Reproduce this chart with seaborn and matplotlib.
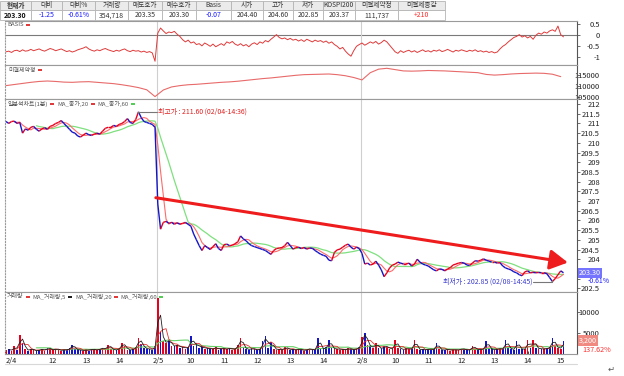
import numpy as np
import pandas as pd
import seaborn as sns
import matplotlib.pyplot as plt
from matplotlib.collections import LineCollection
from matplotlib.patches import Rectangle

# 5-minute bars (KOSPI200 futures, 1-min chart)
sessions = [
    ("2010-02-04 10:35", "2010-02-04 15:05"),
    ("2010-02-05 09:00", "2010-02-05 15:05"),
    ("2010-02-08 09:00", "2010-02-08 15:05"),
]

price_0204 = [211.1, 211.0, 211.1, 211.12, 211.0, 211.05, 210.5, 210.72, 210.65, 210.8,
              210.85, 210.7, 210.6, 210.72, 210.78, 210.7, 210.85, 210.9, 211.0, 211.05,
              211.15, 211.0, 210.85, 210.7, 210.55, 210.5, 210.35, 210.3, 210.4, 210.5,
              210.42, 210.38, 210.45, 210.5, 210.45, 210.6, 210.75, 210.8, 210.8, 210.9,
              210.85, 210.95, 211.0, 211.1, 211.25, 211.05, 211.0, 211.2, 211.6, 211.3,
              211.1, 211.05, 211.0, 210.95, 210.8]
price_0205 = [206.85, 205.55, 205.9, 205.95, 205.85, 205.9, 205.8, 205.88, 205.8, 205.85,
              205.9, 205.8, 205.7, 205.3, 205.0, 204.7, 204.45, 204.7, 204.6, 204.5,
              204.65, 204.8, 204.55, 204.45, 204.75, 204.78, 204.7, 204.72, 204.8, 204.9,
              205.2, 205.05, 204.95, 204.8, 204.7, 204.65, 204.6, 204.55, 204.5, 204.45,
              204.35, 204.25, 204.45, 204.55, 204.58, 204.6, 204.7, 204.87, 204.7, 204.52,
              204.6, 204.62, 204.55, 204.6, 204.52, 204.58, 204.56, 204.45, 204.35, 204.26,
              204.2, 204.15, 203.95, 203.92, 204.35, 204.48, 204.52, 204.62, 204.72, 204.78,
              204.62, 204.52, 204.62, 204.55]
price_0208 = [204.3, 203.75, 203.8, 203.7, 203.75, 203.9, 203.7, 203.45, 203.1, 203.3,
              203.55, 203.7, 203.75, 203.85, 203.8, 203.75, 203.75, 203.8, 203.65, 203.75,
              204.0, 203.85, 203.75, 203.7, 203.65, 203.55, 203.45, 203.4, 203.5, 203.48,
              203.4, 203.5, 203.57, 203.7, 203.75, 203.8, 203.83, 203.8, 203.7, 203.68,
              203.8, 203.92, 203.9, 203.95, 204.02, 203.95, 203.9, 203.85, 203.85, 203.8,
              203.82, 203.65, 203.55, 203.5, 203.45, 203.35, 203.3, 203.2, 203.15, 203.35,
              203.4, 203.3, 203.32, 203.3, 203.32, 203.3, 203.3, 203.25, 203.05, 202.85,
              203.0, 203.2, 203.4, 203.3]

basis_0204 = [-0.75, -0.72, -0.78, -0.7, -0.68, -0.74, -0.66, -0.72, -0.7, -0.64,
              -0.7, -0.66, -0.62, -0.68, -0.72, -0.66, -0.6, -0.64, -0.7, -0.66,
              -0.62, -0.68, -0.74, -0.7, -0.76, -0.72, -0.66, -0.62, -0.58, -0.52,
              -0.62, -0.68, -0.72, -0.66, -0.7, -0.64, -0.6, -0.66, -0.7, -0.74,
              -0.68, -0.72, -0.66, -0.62, -0.7, -0.74, -0.68, -0.72, -0.7, -0.76,
              -0.72, -0.78, -0.74, -0.8, -1.18]
basis_0205 = [0.1, 0.33, 0.2, 0.08, 0.15, 0.12, 0.18, 0.05, -0.05, -0.2,
              -0.3, -0.22, -0.35, -0.3, -0.42, -0.38, -0.48, -0.35, -0.42, -0.5,
              -0.4, -0.52, -0.45, -0.38, -0.46, -0.3, -0.36, -0.28, -0.4, -0.46,
              -0.38, -0.48, -0.42, -0.52, -0.4, -0.34, -0.42, -0.3, -0.36, -0.24,
              -0.3, -0.18, -0.08, 0.03, -0.1, -0.16, -0.12, -0.2, -0.14, -0.22,
              -0.18, -0.26, -0.2, -0.28, -0.18, -0.24, -0.3, -0.22, -0.28, -0.24,
              -0.32, -0.26, -0.36, -0.3, -0.42, -0.5, -0.62, -0.55, -0.72, -0.85,
              -0.95, -0.7, -0.5, -0.42]
basis_0208 = [-0.35, -0.45, -0.38, -0.3, -0.36, -0.28, -0.4, -0.33, -0.22, -0.3,
              -0.45, -0.6, -0.75, -0.82, -0.7, -0.78, -0.72, -0.68, -0.76, -0.7,
              -0.78, -0.72, -0.66, -0.74, -0.7, -0.76, -0.68, -0.72, -0.66, -0.74,
              -0.7, -0.64, -0.7, -0.76, -0.68, -0.72, -0.66, -0.7, -0.74, -0.68,
              -0.72, -0.66, -0.74, -0.7, -0.76, -0.72, -0.78, -0.74, -0.8, -0.76,
              -0.62, -0.5, -0.42, -0.3, -0.2, -0.1, -0.05, 0.03, -0.08, -0.02,
              -0.12, -0.05, -0.18, 0.0, 0.1, 0.05, 0.15, 0.1, 0.2, 0.25,
              0.18, 0.42, 0.03, -0.07]

volume_0204 = [900, 1200, 700, 1900, 1000, 4500, 2600, 1100, 800, 1300,
               900, 700, 1000, 1200, 800, 1500, 1100, 900, 1300, 1000,
               800, 1100, 900, 1400, 2200, 1200, 900, 1000, 700, 1100,
               800, 1300, 900, 1000, 1200, 1500, 1100, 2200, 1300, 900,
               1000, 1400, 2600, 1800, 1000, 900, 1200, 1600, 3800, 2400,
               1500, 1100, 1300, 1000, 1800]
volume_0205 = [13300, 5200, 3000, 2600, 3400, 2000, 1800, 2200, 1500, 1700,
               1300, 1600, 4200, 1900, 2500, 1400, 1800, 1200, 1500, 1100,
               1300, 1600, 1000, 1400, 1200, 1100, 1500, 1000, 1300, 2200,
               3800, 1600, 1200, 1000, 1400, 1100, 900, 1200, 3000, 4200,
               1500, 2800, 1300, 1000, 1200, 900, 1600, 1300, 1000, 1100,
               900, 1200, 1000, 800, 1100, 1300, 900, 1000, 3800, 1400,
               1200, 1600, 3300, 1500, 1100, 1300, 1000, 1200, 900, 1400,
               1100, 1000, 1300, 1600]
volume_0208 = [4000, 5000, 2200, 1800, 1500, 2600, 1400, 1200, 2000, 1600,
               1300, 1100, 3300, 1500, 1200, 1000, 1400, 1100, 1300, 3300,
               1200, 1000, 1100, 900, 1300, 1000, 1200, 2600, 1100, 900,
               1000, 1200, 800, 1100, 900, 1000, 1300, 1100, 900, 1000,
               1900, 1200, 1000, 1100, 1300, 3000, 1400, 1100, 1000, 1200,
               1300, 1100, 3300, 1500, 1200, 1000, 3000, 1300, 1100, 1200,
               3300, 1400, 3300, 1500, 1200, 1300, 1100, 1400, 1600, 3800,
               1800, 1500, 1300, 3200]

# open interest, one reading every 15 minutes
open_interest = [110300, 110800, 111300, 111800, 112200, 112400, 112200, 111900, 111800, 112000,
                 112100, 111800, 111500, 111200, 110700, 110100, 109400, 108400, 105300, 108300,
                 109700, 110300, 110700, 110900, 111200, 111500, 111800, 112000, 112300, 112700,
                 113100, 113500, 113800, 114200, 114600, 115000, 115300, 115400, 115500, 115600,
                 115300, 114800, 114000, 112900, 116200, 117800, 118200, 117600, 117000, 116900,
                 117000, 117200, 117100, 117000, 116800, 116600, 116400, 116200, 115400, 115100,
                 115300, 115600, 115800, 115900, 116000, 115900, 115500, 114400]

header_labels = ["현재가", "대비", "대비%", "거래량", "매도호가", "매수호가", "Basis",
                 "시가", "고가", "저가", "KOSPI200", "미결제약정", "미결제증감"]
header_values = ["203.30", "-1.25", "-0.61%", "354,718", "203.35", "203.30", "-0.07",
                 "204.40", "204.60", "202.85", "203.37", "111,737", "+210"]
value_colors = ["#111111", "#1a1aff", "#1a1aff", "#333333", "#333333", "#333333", "#1a1aff",
                "#333333", "#333333", "#333333", "#333333", "#333333", "#ff2a2a"]

high_text = "최고가 : 211.60 (02/04-14:36)"
low_text = "최저가 : 202.85 (02/08-14:45)"
last_change = "-0.61%"
last_volume_text = "3,200"
last_volume_ratio = "137.62%"

# ---------------------------------------------------------------------------
sns.set_style("white")
plt.rcParams["font.family"] = ["Noto Sans CJK KR", "DejaVu Sans"]
plt.rcParams["axes.unicode_minus"] = False

W, H = 624, 376
fig = plt.figure(figsize=(W / 100, H / 100), dpi=100)


def px_axes(x0, y0, x1, y1, **kw):
    return fig.add_axes([x0 / W, 1 - y1 / H, (x1 - x0) / W, (y1 - y0) / H], **kw)


times = pd.DatetimeIndex(np.concatenate(
    [pd.date_range(a, b, freq="5min").values for a, b in sessions]))
df = pd.DataFrame({
    "bar": np.arange(len(times)),
    "price": price_0204 + price_0205 + price_0208,
    "basis": basis_0204 + basis_0205 + basis_0208,
    "volume": volume_0204 + volume_0205 + volume_0208,
})
df["ma20"] = df["price"].rolling(4).mean()
df["ma60"] = df["price"].rolling(12).mean()
df["vma5"] = df["volume"].rolling(2).mean()
df["vma20"] = df["volume"].rolling(4).mean()
df["vma60"] = df["volume"].rolling(12).mean()
oi = pd.DataFrame({"bar": np.arange(0, len(times), 3)[:len(open_interest)],
                   "oi": open_interest})

# date label at each session start, hour labels that are not crowded by a date
day_starts = [i for i in range(len(times)) if i == 0 or times[i].date() != times[i - 1].date()]
hour_bars = [i for i, t in enumerate(times) if t.minute == 0 and i not in day_starts
             and min(abs(i - d) for d in day_starts) > 6]
tick_pos = sorted(day_starts + hour_bars)
tick_lab = [f"{times[i].month}/{times[i].day}" if i in day_starts else str(times[i].hour)
            for i in tick_pos]

# candle colour: change from previous bar, session opens count as rising
chg = df["price"].diff().fillna(0)
chg[day_starts] = 0
df["up"] = chg >= 0

XLIM = (-0.36, 206.9)
UP, DOWN = "#e8001c", "#1414c8"
GRID = "#cfcfcf"


def style_panel(ax, ylim, ticks, labels):
    ax.set_xlim(*XLIM)
    ax.set_ylim(*ylim)
    ax.yaxis.tick_right()
    ax.set_yticks(ticks)
    ax.set_yticklabels(labels, ha="right")
    ax.tick_params(axis="y", direction="out", length=2.5, width=0.6, color="#555555",
                   labelsize=5.4, pad=14, labelcolor="#222222")
    ax.set_xticks([])
    ax.set_xlabel("")
    ax.set_ylabel("")
    for s in ax.spines.values():
        s.set_color("#9a9a9a")
        s.set_linewidth(0.8)
    ax.spines["right"].set_color("#555555")
    ax.spines["left"].set_linestyle(":")
    for b in day_starts[1:]:
        ax.axvline(b - 0.3, color=GRID, lw=0.8, zorder=0)


# --- BASIS panel
ax_b = px_axes(5, 21, 577, 65)
sns.lineplot(data=df, x="bar", y="basis", ax=ax_b, color="#e03a3a", lw=0.7)
ax_b.axhline(0, color="#7a7a7a", lw=0.8, zorder=0)
style_panel(ax_b, (-1.35, 0.65), [0.5, 0, -0.5, -1], ["0.5", "0", "-0.5", "-1"])

# --- open interest panel
ax_o = px_axes(5, 65, 577, 99)
sns.lineplot(data=oi, x="bar", y="oi", ax=ax_o, color="#e86a6a", lw=0.8)
style_panel(ax_o, (104200, 119700), [115000, 110000, 105000],
            ["115000", "110000", "105000"])

# --- price panel
ax_p = px_axes(5, 99, 577, 292)
sns.lineplot(data=df, x="bar", y="ma60", ax=ax_p, color="#7ee07e", lw=0.9)
sns.lineplot(data=df, x="bar", y="ma20", ax=ax_p, color="#ff6a6a", lw=0.8)
pts = df[["bar", "price"]].to_numpy()
segs = np.stack([pts[:-1], pts[1:]], axis=1)
seg_cols = [UP if c >= 0 else DOWN for c in df["price"].diff().to_numpy()[1:]]
ax_p.add_collection(LineCollection(segs, colors=seg_cols, lw=1.0, zorder=3))
last = df["price"].iloc[-1]
p_ticks = np.arange(202.5, 212.01, 0.5)
# the last-price box covers the labels next to it
style_panel(ax_p, (202.31, 212.26), p_ticks,
            ["" if abs(t - last) < 0.35 else f"{t:g}" for t in p_ticks])

# trend arrow
ax_p.annotate("", xy=(203.6, 203.83), xytext=(54.3, 207.17),
              arrowprops=dict(arrowstyle="-|>,head_length=0.9,head_width=0.5",
                              color="#ee1c1c", lw=2.2, mutation_scale=12,
                              shrinkA=0, shrinkB=0), zorder=4)

# high / low markers
hi = df["price"].idxmax()
lo = df["price"].idxmin()
hv, lv = df["price"][hi], df["price"][lo]
ax_p.plot([hi, hi, hi + 6.8], [hv - 0.08, hv, hv], color="#777777", lw=0.8, zorder=4)
ax_p.text(hi + 7.2, hv, high_text, color="#e02020", fontsize=5.0, va="center", zorder=4)
ax_p.plot([lo - 7.0, lo, lo], [lv, lv, lv + 0.08], color="#777777", lw=0.8, zorder=4)
ax_p.text(lo - 7.4, lv, low_text, color="#3a3ad0", fontsize=5.0, va="center",
          ha="right", zorder=4)

ax_p.text(1.003, last, f"{last:.2f}", transform=ax_p.get_yaxis_transform(),
          fontsize=5.2, color="white", va="center", ha="left", clip_on=False,
          bbox=dict(boxstyle="square,pad=0.15", fc="#7474ff", ec="none"))
ax_p.annotate(last_change, xy=(1.0, last), xycoords=ax_p.get_yaxis_transform(),
              xytext=(8, -5.6), textcoords="offset points", fontsize=5.0,
              color="#1a1aff", va="center", ha="left", annotation_clip=False)

# --- volume panel
ax_v = px_axes(5, 292, 577, 354)
ax_v.bar(df["bar"], df["volume"], width=0.6,
         color=[UP if u else DOWN for u in df["up"]], lw=0, zorder=2)
sns.lineplot(data=df, x="bar", y="vma60", ax=ax_v, color="#66d066", lw=0.8, zorder=3)
sns.lineplot(data=df, x="bar", y="vma20", ax=ax_v, color="#e83030", lw=0.6, zorder=3)
sns.lineplot(data=df, x="bar", y="vma5", ax=ax_v, color="#202020", lw=0.6, zorder=3)
style_panel(ax_v, (0, 14760), [10000, 5000], ["10000", "5000"])
ax_v.set_xticks(tick_pos)
ax_v.set_xticklabels(tick_lab)
ax_v.tick_params(axis="x", bottom=True, direction="in", length=2, width=0.6,
                 labelsize=5.4, pad=2, labelcolor="#222222")
ax_v.get_xticklabels()[0].set_horizontalalignment("left")
lastv = df["volume"].iloc[-1]
ax_v.text(1.003, lastv, last_volume_text, transform=ax_v.get_yaxis_transform(),
          fontsize=5.2, color="white", va="center", ha="left", clip_on=False,
          bbox=dict(boxstyle="square,pad=0.15", fc="#f08a80", ec="none"))
ax_v.annotate(last_volume_ratio, xy=(1.0, lastv), xycoords=ax_v.get_yaxis_transform(),
              xytext=(4, -7), textcoords="offset points", fontsize=5.2,
              color="#ff3030", va="center", ha="left", annotation_clip=False)

# --- overlay in pixel coordinates: quote table, panel captions
ov = fig.add_axes([0, 0, 1, 1], zorder=10)
ov.set_xlim(0, W)
ov.set_ylim(H, 0)
ov.axis("off")
ov.patch.set_alpha(0)

col_edges = [0, 31, 62, 95, 128, 162, 196, 231, 263, 293, 323, 355, 398, 445]
for i, (lab, val, vc) in enumerate(zip(header_labels, header_values, value_colors)):
    x0, x1 = col_edges[i], col_edges[i + 1]
    ov.add_patch(Rectangle((x0, 0.5), x1 - x0, 9.5, fc="#ebebeb", ec="#b4b4b4", lw=0.6))
    ov.add_patch(Rectangle((x0, 10), x1 - x0, 10, fc="white", ec="#b4b4b4", lw=0.6))
    bold = "bold" if i == 0 else "normal"
    ov.text((x0 + x1) / 2, 5.2, lab, fontsize=4.8, ha="center", va="center",
            color="#333333", fontweight=bold)
    ov.text((x0 + x1) / 2, 15.2, val, fontsize=5.0, ha="center", va="center",
            color=vc, fontweight=bold)

renderer = fig.canvas.get_renderer()


def caption(x, y, items):
    # each item: caption text followed by a short coloured dash
    for text, dash in items:
        t = ov.text(x, y, text, fontsize=4.3, color="#555555", va="center", ha="left")
        x += t.get_window_extent(renderer).width + 2
        ov.add_patch(Rectangle((x, y - 1), 4, 2, fc=dash, ec="none"))
        x += 7


caption(7, 24.5, [("BASIS", "#e03a3a")])
caption(8, 70, [("미결제약정", "#e03a3a")])
caption(8, 104, [("일분석차트(1분)", "#e03a3a"), ("MA_종가,20", "#e03a3a"),
                 ("MA_종가,60", "#55cc55")])
caption(7, 297, [("거래량", "#e03a3a"), ("MA_거래량,5", "#202020"),
                 ("MA_거래량,20", "#e03a3a"), ("MA_거래량,60", "#55cc55")])

ov.plot([5, 577], [364, 364], color="#d8d8d8", lw=0.8)
ov.text(611, 369, "↵", fontsize=6, color="#555555", ha="center", va="center")

fig.savefig("out.png", dpi=100)
